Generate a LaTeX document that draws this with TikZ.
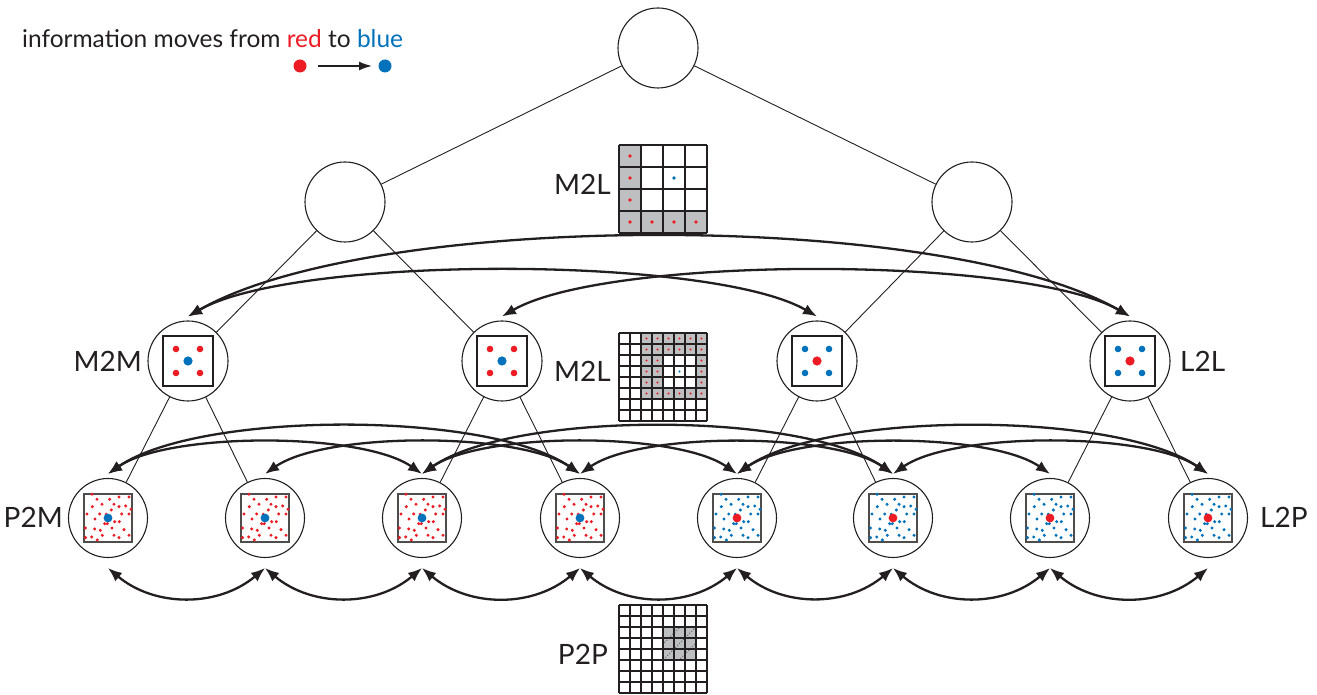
\documentclass[tikz,border=0pt]{standalone}
\usepackage{fontspec}
\setmainfont{Lato}
\usetikzlibrary{arrows.meta,positioning}

\definecolor{ink}{HTML}{231F20}
\definecolor{srcred}{HTML}{ED1C24}
\definecolor{tgtblue}{HTML}{0072BC}
\definecolor{cellgray}{HTML}{BEBFC1}

% square with 4 expansion points around a center
\newcommand{\expbox}[3]{%
	\begin{scope}[shift={(#1.center)}]
		\draw[ink, line width=1.3pt] (-25,-25) rectangle (25,25);
		\fill[#2] (-12,-12) circle (3.3) (12,-12) circle (3.3) (-12,12) circle (3.3) (12,12) circle (3.3);
		\fill[#3] (0,0) circle (4.6);
	\end{scope}}
% leaf box with scattered particles
\newcommand{\leafbox}[3]{%
	\begin{scope}[shift={(#1.center)}]
		\draw[ink!80, line width=1.4pt] (-24,-24) rectangle (24,24);
		\foreach \px/\py in {-16/23.7, -11/18.7, 1.7/18.7, 11/21, 21/21, -15.7/11.3, -6/13.7, 6/13.7,
			11/11.3, 17.7/12, 23/8.7, -21/4, -8.3/4, 3.3/8, 13.7/4, 21/4, -13/-1, -1.7/3.7,
			6.7/-3.7, 11.3/-3.7, -3.3/-5.7, -0.7/-5.7, -22.5/-10, -13.3/-11, -7.7/-12.3, 4/-10,
			16/-11.7, -5.7/-17.3, 6/-17.3, 11/-19.7, 21/-17.3, -22.5/-19.7, -16.3/-19, -10.7/-22}
			{\fill[#2] (\px,\py) circle (1.7);}
		\fill[#3] (0,0) circle (4.4);
	\end{scope}}

\begin{document}
\begin{tikzpicture}[
		x=1pt, y=1pt,
		treenode/.style={circle, draw=ink, line width=1.1pt, fill=white, minimum size=80pt, inner sep=0pt},
		leafnode/.style={treenode, minimum size=79pt},
		edge/.style={ink, line width=0.9pt},
		far/.style={ink, line width=2.3pt, {Latex[length=14pt,width=11pt]}-{Latex[length=14pt,width=11pt]}},
		oplabel/.style={font=\fontsize{28}{32}\selectfont, text=ink, inner sep=0pt},
		grid/.style={ink, line width=1.1pt},
	]
	\useasboundingbox (0,0) rectangle (1317,695);

	% tree
	\node[treenode] (root) at (658,647) {};
	\node[treenode] (a1) at (345,493) {};
	\node[treenode] (a2) at (972,493) {};
	\node[treenode] (b1) at (188,334) {};
	\node[treenode] (b2) at (502,334) {};
	\node[treenode] (b3) at (817,334) {};
	\node[treenode] (b4) at (1130,334) {};
	\node[leafnode] (c1) at (108,177) {};
	\node[leafnode] (c2) at (265,177) {};
	\node[leafnode] (c3) at (422,177) {};
	\node[leafnode] (c4) at (580,177) {};
	\node[leafnode] (c5) at (737,177) {};
	\node[leafnode] (c6) at (893,177) {};
	\node[leafnode] (c7) at (1050,177) {};
	\node[leafnode] (c8) at (1208,177) {};

	\draw[edge] (root) -- (a1);
	\draw[edge] (root) -- (a2);
	\draw[edge] (a1) -- (b1);
	\draw[edge] (a1) -- (b2);
	\draw[edge] (a2) -- (b3);
	\draw[edge] (a2) -- (b4);
	\draw[edge] (b1) -- (c1);
	\draw[edge] (b1) -- (c2);
	\draw[edge] (b2) -- (c3);
	\draw[edge] (b2) -- (c4);
	\draw[edge] (b3) -- (c5);
	\draw[edge] (b3) -- (c6);
	\draw[edge] (b4) -- (c7);
	\draw[edge] (b4) -- (c8);

	\expbox{b1}{srcred}{tgtblue}
	\expbox{b2}{srcred}{tgtblue}
	\expbox{b3}{tgtblue}{srcred}
	\expbox{b4}{tgtblue}{srcred}
	\leafbox{c1}{srcred}{tgtblue}
	\leafbox{c2}{srcred}{tgtblue}
	\leafbox{c3}{srcred}{tgtblue}
	\leafbox{c4}{srcred}{tgtblue}
	\leafbox{c5}{tgtblue}{srcred}
	\leafbox{c6}{tgtblue}{srcred}
	\leafbox{c7}{tgtblue}{srcred}
	\leafbox{c8}{tgtblue}{srcred}

	% interaction lists
	\draw[far] ([yshift=4pt]b1.north) to[out=30, in=150, looseness=0.58] ([yshift=4pt]b4.north);
	\draw[far] ([yshift=4pt]b1.north) to[out=30, in=150, looseness=0.5] ([yshift=4pt]b3.north);
	\draw[far] ([yshift=4pt]b2.north) to[out=30, in=150, looseness=0.5] ([yshift=4pt]b4.north);

	\draw[far] ([yshift=4pt]c1.north) to[out=35, in=145, looseness=0.6] ([yshift=4pt]c3.north);
	\draw[far] ([yshift=4pt]c1.north) to[out=35, in=145, looseness=0.6] ([yshift=4pt]c4.north);
	\draw[far] ([yshift=4pt]c2.north) to[out=35, in=145, looseness=0.6] ([yshift=4pt]c4.north);
	\draw[far] ([yshift=4pt]c3.north) to[out=35, in=145, looseness=0.6] ([yshift=4pt]c5.north);
	\draw[far] ([yshift=4pt]c3.north) to[out=35, in=145, looseness=0.6] ([yshift=4pt]c6.north);
	\draw[far] ([yshift=4pt]c4.north) to[out=35, in=145, looseness=0.6] ([yshift=4pt]c6.north);
	\draw[far] ([yshift=4pt]c5.north) to[out=35, in=145, looseness=0.6] ([yshift=4pt]c7.north);
	\draw[far] ([yshift=4pt]c5.north) to[out=35, in=145, looseness=0.6] ([yshift=4pt]c8.north);
	\draw[far] ([yshift=4pt]c6.north) to[out=35, in=145, looseness=0.6] ([yshift=4pt]c8.north);

	% near neighbours
	\draw[far] ([yshift=-10pt]c1.south) to[out=-40, in=-140] ([yshift=-10pt]c2.south);
	\draw[far] ([yshift=-10pt]c2.south) to[out=-40, in=-140] ([yshift=-10pt]c3.south);
	\draw[far] ([yshift=-10pt]c3.south) to[out=-40, in=-140] ([yshift=-10pt]c4.south);
	\draw[far] ([yshift=-10pt]c4.south) to[out=-40, in=-140] ([yshift=-10pt]c5.south);
	\draw[far] ([yshift=-10pt]c5.south) to[out=-40, in=-140] ([yshift=-10pt]c6.south);
	\draw[far] ([yshift=-10pt]c6.south) to[out=-40, in=-140] ([yshift=-10pt]c7.south);
	\draw[far] ([yshift=-10pt]c7.south) to[out=-40, in=-140] ([yshift=-10pt]c8.south);

	% operator labels
	\node[oplabel, anchor=base east] (m2m) at (142,323) {M2M};
	\node[oplabel, anchor=base west] (l2l) at (1180,323) {L2L};
	\node[oplabel, anchor=base east] (p2m) at (63,167) {P2M};
	\node[oplabel, anchor=base west] (l2p) at (1260,167) {L2P};
	\node[oplabel, anchor=base east] (m2ltop) at (611,500) {M2L};
	\node[oplabel, anchor=base east] (m2lmid) at (611,313) {M2L};
	\node[oplabel, anchor=base east] (p2p) at (608,30) {P2P};

	% M2L grid, level 1
	\begin{scope}[shift={(619,462)}]
		\fill[cellgray] (0,0) rectangle (22,88);
		\fill[cellgray] (0,0) rectangle (88,22);
		\draw[grid] (0,0) grid[step=22] (88,88);
		\foreach \r in {0,1,2,3} {\fill[srcred] (11,{11+22*\r}) circle (1.8);}
		\foreach \c in {1,2,3} {\fill[srcred] ({11+22*\c},11) circle (1.8);}
		\fill[tgtblue] (55,55) circle (1.8);
	\end{scope}

	% M2L grid, level 2
	\begin{scope}[shift={(619,274)}]
		\fill[cellgray] (22,22) rectangle (88,88);
		\fill[white] (44,33) rectangle (77,66);
		\draw[grid] (0,0) grid[step=11] (88,88);
		\foreach \c in {2,...,7} {
			\foreach \r in {2,...,7} {
				\pgfmathtruncatemacro{\hole}{(\c>3)*(\c<7)*(\r>2)*(\r<6)}
				\ifnum\hole=0 \fill[srcred] ({5.5+11*\c},{5.5+11*\r}) circle (1.2); \fi
			}
		}
		\fill[tgtblue] (60.5,49.5) circle (1.2);
	\end{scope}

	% P2P grid
	\begin{scope}[shift={(619,2)}]
		\fill[cellgray] (44,33) rectangle (77,66);
		\foreach \k in {1,...,70} {\fill[ink!85] ({44.8+mod(\k*37,32)},{33.8+mod(\k*53,32)}) circle (0.45);}
		\draw[grid] (0,0) grid[step=11] (88,88);
	\end{scope}

	% legend
	\node[anchor=base west, inner sep=0pt, font=\fontsize{24.5}{28}\selectfont, text=ink] (legend) at (22,647)
		{information moves from \textcolor{srcred}{red} to \textcolor{tgtblue}{blue}};
	\fill[srcred] (300,629) circle (6.5) coordinate (from);
	\fill[tgtblue] (385,629) circle (6.5) coordinate (to);
	\draw[ink, line width=1.6pt, -{Latex[length=13pt,width=9pt]}] ([xshift=18pt]from) -- ([xshift=-13pt]to);
\end{tikzpicture}
\end{document}
